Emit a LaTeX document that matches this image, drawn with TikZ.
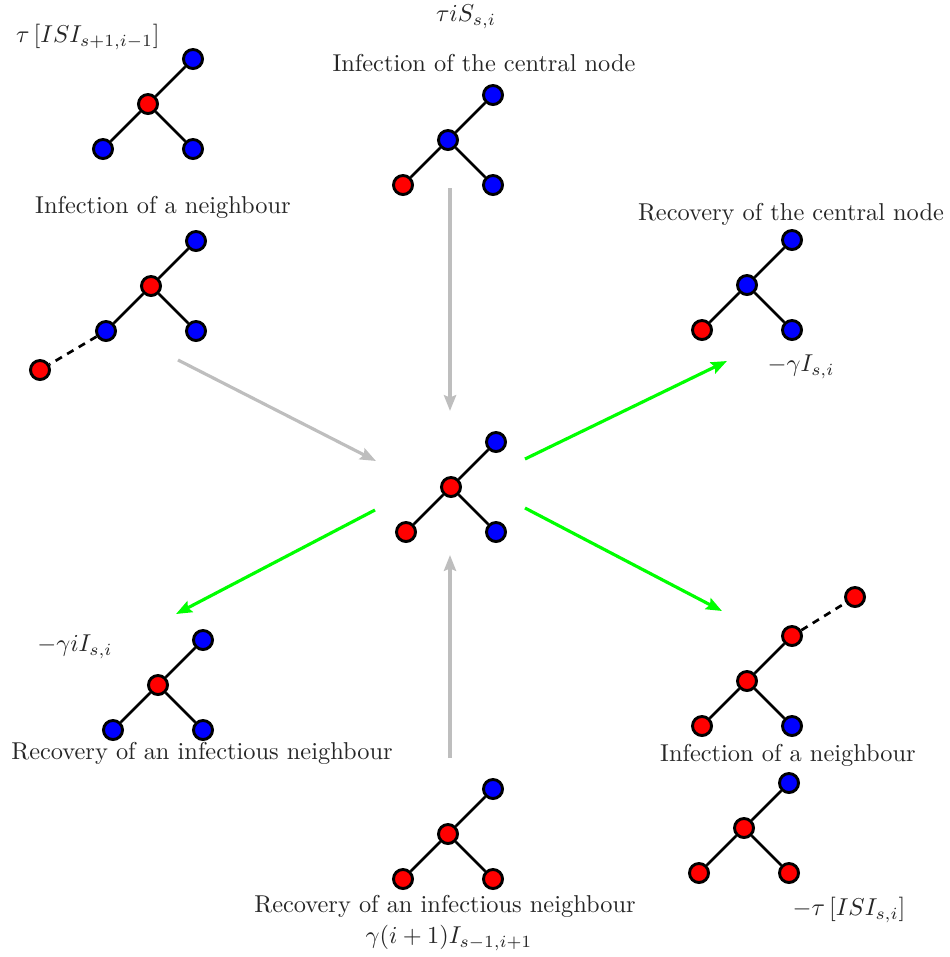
\documentclass[tikz,border=0pt]{standalone}
\usetikzlibrary{arrows.meta,calc}
\definecolor{arrgray}{RGB}{190,190,190}
\definecolor{puregreen}{RGB}{0,255,0}
\tikzset{
  vtx/.style={circle,draw=black,line width=1.2pt,minimum size=7.8pt,inner sep=0pt},
  inf/.style={vtx,fill=red},
  sus/.style={vtx,fill=blue},
  link/.style={line width=1.1pt,black},
  dlink/.style={line width=1.1pt,black,dash pattern=on 3pt off 2.5pt},
  grayarr/.style={line width=1.3pt,arrgray,-{Stealth[length=6.5pt,width=5pt,inset=1pt]}},
  greenarr/.style={line width=1.3pt,puregreen,-{Stealth[length=6.5pt,width=5pt,inset=1pt]}},
  lbl/.style={inner sep=0pt,text=black!85}
}
% #1 prefix, #2 x, #3 y, #4 centre, #5 top-right, #6 bottom-left, #7 bottom-right
\newcommand{\mytree}[7]{%
  \node[#4] (#1c) at (#2,#3) {};
  \node[#5] (#1tr) at ($(#1c)+(45,-45)$) {};
  \node[#6] (#1bl) at ($(#1c)+(-45,45)$) {};
  \node[#7] (#1br) at ($(#1c)+(45,45)$) {};
  \draw[link] (#1c) -- (#1tr);
  \draw[link] (#1c) -- (#1bl);
  \draw[link] (#1c) -- (#1br);
}
\begin{document}
\begin{tikzpicture}[x=0.41pt,y=-0.41pt]
\useasboundingbox (0,0) rectangle (950,957);

% trees
\mytree{a}{148}{104}{inf}{sus}{sus}{sus}
\mytree{b}{448}{140}{sus}{sus}{inf}{sus}
\mytree{c}{151}{286}{inf}{sus}{sus}{sus}
\node[inf] (cx) at (40,370) {};
\draw[dlink] (cbl) -- (cx);
\mytree{d}{747}{285}{sus}{sus}{inf}{sus}
\mytree{m}{451}{487}{inf}{sus}{inf}{sus}
\mytree{e}{158}{685}{inf}{sus}{sus}{sus}
\mytree{f}{747}{681}{inf}{inf}{inf}{sus}
\node[inf] (fx) at (855,597) {};
\draw[dlink] (ftr) -- (fx);
\mytree{g}{744}{828}{inf}{sus}{inf}{inf}
\mytree{h}{448}{834}{inf}{sus}{inf}{inf}

% labels
\node[lbl] (la) at (88,37) {$\tau\left[ISI_{s+1,i-1}\right]$};
\node[lbl] (lb1) at (466,17) {$\tau i S_{s,i}$};
\node[lbl] (lb2) at (484,63) {Infection of the central node};
\node[lbl] (lc) at (163,207) {Infection of a neighbour};
\node[lbl] (ld1) at (791,214) {Recovery of the central node};
\node[lbl] (ld2) at (801,367) {$-\gamma I_{s,i}$};
\node[lbl] (le1) at (75,647) {$-\gamma i I_{s,i}$};
\node[lbl] (le2) at (202,753) {Recovery of an infectious neighbour};
\node[lbl] (lf) at (788,755) {Infection of a neighbour};
\node[lbl] (lg) at (849,910) {$-\tau\left[ISI_{s,i}\right]$};
\node[lbl] (lh1) at (445,906) {Recovery of an infectious neighbour};
\node[lbl] (lh2) at (449,938) {$\gamma(i+1)I_{s-1,i+1}$};

% arrow end points
\coordinate (p1s) at (178,360); \coordinate (p1e) at (376,461);
\coordinate (p2s) at (450,188); \coordinate (p2e) at (450,411);
\coordinate (p3s) at (450,758); \coordinate (p3e) at (450,555);
\coordinate (q1s) at (525,459); \coordinate (q1e) at (727,361);
\coordinate (q2s) at (375,510); \coordinate (q2e) at (176,614);
\coordinate (q3s) at (525,508); \coordinate (q3e) at (722,611);

\draw[grayarr] (p1s) -- (p1e);
\draw[grayarr] (p2s) -- (p2e);
\draw[grayarr] (p3s) -- (p3e);
\draw[greenarr] (q1s) -- (q1e);
\draw[greenarr] (q2s) -- (q2e);
\draw[greenarr] (q3s) -- (q3e);
\end{tikzpicture}
\end{document}
